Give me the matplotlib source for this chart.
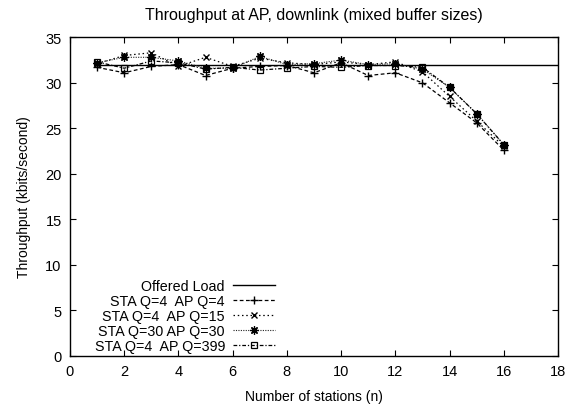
import matplotlib
matplotlib.use("Agg")
import matplotlib.pyplot as plt

plt.rcParams['font.family'] = ['Liberation Sans', 'DejaVu Sans']

n = [1, 2, 3, 4, 5, 6, 7, 8, 9, 10, 11, 12, 13, 14, 15, 16]
offered_x = [1, 18]
offered_y = [32, 32]
sta4_ap4 = [31.7, 31.1, 31.8, 32.0, 30.8, 31.6, 31.8, 31.9, 31.1, 32.2, 30.8, 31.1, 30.0, 27.8, 25.6, 22.6]
sta4_ap15 = [32.1, 33.0, 33.3, 31.8, 32.8, 31.8, 32.7, 32.2, 32.0, 32.3, 32.0, 32.3, 31.2, 28.5, 25.8, 23.0]
sta30_ap30 = [32.2, 32.8, 32.8, 32.4, 31.6, 31.6, 32.9, 32.0, 32.1, 32.5, 32.0, 32.1, 31.5, 29.5, 26.6, 23.2]
sta4_ap399 = [32.3, 31.6, 32.4, 32.2, 31.5, 31.7, 31.4, 31.6, 31.8, 31.7, 31.9, 31.9, 31.7, 29.5, 26.6, 23.2]

labels = ["Offered Load", "STA Q=4  AP Q=4", "STA Q=4  AP Q=15",
          "STA Q=30 AP Q=30", "STA Q=4  AP Q=399"]
xticks = [0, 2, 4, 6, 8, 10, 12, 14, 16, 18]
yticks = [0, 5, 10, 15, 20, 25, 30, 35]

fig = plt.figure(figsize=(5.77, 4.06), dpi=100)
ax = fig.add_axes([70/577, 1-356.7/406, 488/577, 318.4/406])

ax.plot(offered_x, offered_y, color='black', lw=1.0, label=labels[0])
ax.plot(n, sta4_ap4, color='black', lw=0.9, ls=(0, (3, 2)), marker='+', ms=6,
        mew=1.0, label=labels[1])
ax.plot(n, sta4_ap15, color='black', lw=0.9, ls=(0, (1.2, 2.2)), marker='x', ms=5,
        mew=1.0, label=labels[2])
ax.plot(n, sta30_ap30, color='#222222', lw=0.8, ls=(0, (1.0, 1.2)), marker=(8, 2, 0), ms=6,
        mew=0.9, markeredgecolor='black', label=labels[3])
ax.plot(n, sta4_ap399, color='black', lw=0.9, ls=(0, (3, 1.5, 1, 1.5)), marker='s', ms=5,
        mfc='none', mec='black', mew=0.9, label=labels[4])

ax.set_xlim(0, 18)
ax.set_ylim(0, 35)
ax.set_xticks(xticks)
ax.set_yticks(yticks)
ax.tick_params(direction='in', top=True, right=True, length=4, width=0.8,
               labelsize=10.5, pad=6)
for s in ax.spines.values():
    s.set_linewidth(1.0)

ax.set_title("Throughput at AP, downlink (mixed buffer sizes)", fontsize=11.5, pad=13)
ax.set_xlabel("Number of stations (n)", fontsize=10, labelpad=8)
ax.set_ylabel("Throughput (kbits/second)", fontsize=10, labelpad=10)

leg = ax.legend(loc='lower right', bbox_to_anchor=(0.42, 0.009), frameon=False,
                markerfirst=False, fontsize=10.3, handlelength=2.9,
                handletextpad=0.6, labelspacing=0.07, borderpad=0, borderaxespad=0)

fig.savefig("out.png", dpi=100)
